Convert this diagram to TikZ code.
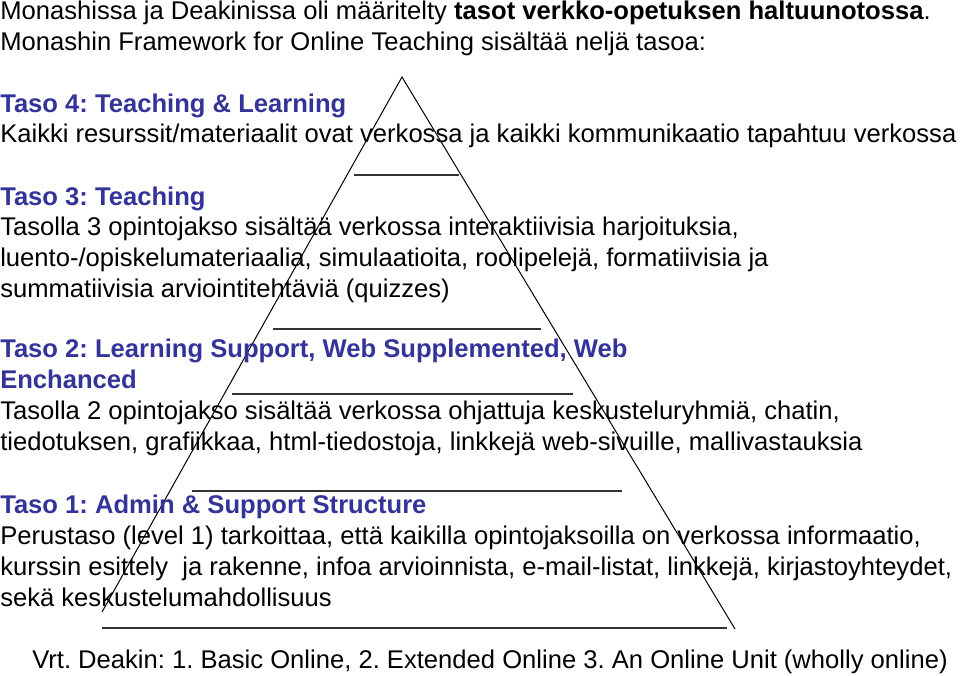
\documentclass[tikz,border=0pt]{standalone}
\usepackage{fontspec}
\setmainfont{Liberation Sans}
\usepackage{tikz}
\usetikzlibrary{positioning}

\definecolor{tasoblue}{RGB}{51,51,153}

\tikzset{
    txt/.style={anchor=base west, inner sep=0pt, align=left, font=\fontsize{19.2pt}{23.21pt}\selectfont\frenchspacing},
    head/.style={txt, text=tasoblue, font=\fontsize{19.2pt}{23.21pt}\selectfont\frenchspacing\bfseries},
    level/.style={line width=1pt, black!80}
}

\begin{document}
\begin{tikzpicture}[x=0.75pt, y=-0.75pt]
        \useasboundingbox (0,0) rectangle (960,675);

        % pyramid
        \coordinate (top) at (402,77);
        \coordinate (bl) at (102,612);
        \coordinate (br) at (735,629);
        \draw[line width=0.75pt] (bl) -- (top) -- (br);

        \draw[level] (354,175) -- (459,175);
        \draw[level] (273,329) -- (541,329);
        \draw[level] (232,394) -- (573,394);
        \draw[level] (192,491) -- (622,491);
        \draw[level] (102,628) -- (727,628);

        % base anchor of a multi-line node = baseline of its last line
        \node[txt] (intro) at (0,50) {Monashissa ja Deakinissa oli määritelty \textbf{tasot verkko-opetuksen haltuunotossa}.\\
            Monashin Framework for Online Teaching sisältää neljä tasoa:};

        \node[head] (taso4) at (0,112) {Taso 4: Teaching \& Learning};
        \node[txt] (text4) at (0,142) {Kaikki resurssit/materiaalit ovat verkossa ja kaikki kommunikaatio tapahtuu verkossa};

        \node[head] (taso3) at (0,205) {Taso 3: Teaching};
        \node[txt] (text3) at (0,297) {Tasolla 3 opintojakso sisältää verkossa interaktiivisia harjoituksia,\\
            luento-/opiskelumateriaalia, simulaatioita, roolipelejä, formatiivisia ja\\
            summatiivisia arviointitehtäviä (quizzes)};

        \node[head] (taso2) at (0,388) {Taso 2: Learning Support, Web Supplemented, Web\\Enchanced};
        \node[txt] (text2) at (0,450) {Tasolla 2 opintojakso sisältää verkossa ohjattuja keskusteluryhmiä, chatin,\\
            tiedotuksen, grafiikkaa, html-tiedostoja, linkkejä web-sivuille, mallivastauksia};

        \node[head] (taso1) at (0,513) {Taso 1: Admin \& Support Structure};
        \node[txt] (text1) at (0,606) {Perustaso (level 1) tarkoittaa, että kaikilla opintojaksoilla on verkossa informaatio,\\
            kurssin esittely\ \ ja rakenne, infoa arvioinnista, e-mail-listat, linkkejä, kirjastoyhteydet,\\
            sekä keskustelumahdollisuus};

        \node[txt] (deakin) at (32,668) {Vrt. Deakin: 1. Basic Online, 2. Extended Online 3. An Online Unit (wholly online)};
\end{tikzpicture}
\end{document}
